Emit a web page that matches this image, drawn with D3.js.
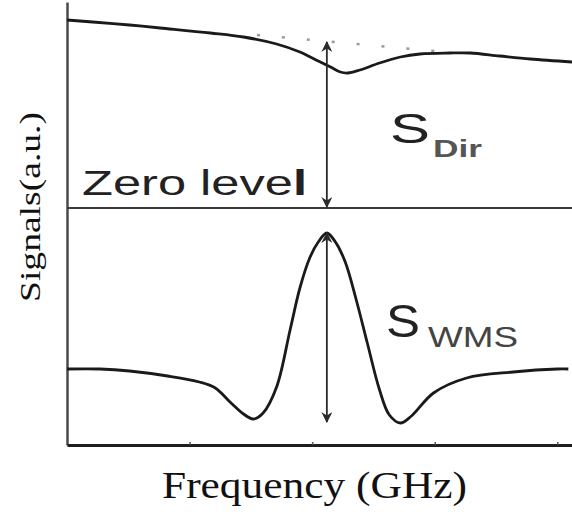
<!DOCTYPE html>
<html>
<head>
<meta charset="utf-8">
<script src="https://cdn.jsdelivr.net/npm/d3@7/dist/d3.min.js"></script>
<style>
  html, body { margin: 0; padding: 0; background: #fff; }
  svg { display: block; }
</style>
</head>
<body>
<svg id="chart" width="572" height="512"></svg>
<script>
// Direct absorption signal (upper trace)
const dirFreq   = [0, 0.21, 0.51, 0.76, 1.17, 1.44, 1.71, 1.90, 2.05, 2.15, 2.23, 2.29, 2.39, 2.55, 2.72, 2.88, 3.12, 3.29, 3.53, 3.78, 4.12];
const dirSignal = [1.88, 1.86, 1.83, 1.80, 1.75, 1.71, 1.64, 1.56, 1.47, 1.41, 1.36, 1.35, 1.38, 1.45, 1.51, 1.54, 1.55, 1.55, 1.52, 1.49, 1.46];

// Extrapolated baseline under the absorption dip (dotted)
const baseFreq   = [1.55, 3.00];
const baseSignal = [1.73, 1.57];

// Wavelength-modulation 2f signal (lower trace)
const wmsFreq   = [0, 0.27, 0.51, 0.82, 1.08, 1.21, 1.33, 1.44, 1.52, 1.60, 1.71, 1.82, 1.90, 1.98, 2.05, 2.12, 2.19, 2.27, 2.36, 2.45, 2.55, 2.63, 2.72, 2.81, 2.99, 3.26, 3.64, 4.00, 4.09];
const wmsSignal = [-1.61, -1.61, -1.63, -1.68, -1.74, -1.80, -1.94, -2.06, -2.11, -2.05, -1.79, -1.22, -0.80, -0.50, -0.34, -0.25, -0.34, -0.54, -0.92, -1.35, -1.82, -2.07, -2.15, -2.08, -1.85, -1.70, -1.64, -1.61, -1.61];

// Axis ticks and reference levels
const freqTicks = [1, 2, 3, 4];
const zeroLevel = 0;
const lineCenter = 2.12;
const dirLevel = 1.66;
const wmsPeak = -0.25;
const wmsFloor = -2.14;

const svg = d3.select("#chart");
const plotLeft = 67, plotRight = 572, plotTop = 2, plotBottom = 445;

const x = d3.scaleLinear().domain([0, 4.12]).range([plotLeft, plotRight]);
const y = d3.scaleLinear().domain([-2.37, 2.06]).range([plotBottom, plotTop]);

// Arrow markers
const defs = svg.append("defs");
defs.append("marker")
  .attr("id", "arrow")
  .attr("viewBox", "0 0 10 10")
  .attr("refX", 9).attr("refY", 5)
  .attr("markerWidth", 11).attr("markerHeight", 11)
  .attr("markerUnits", "userSpaceOnUse")
  .attr("orient", "auto-start-reverse")
  .append("path")
  .attr("d", "M0,0 L10,5 L0,10 L3,5 Z")
  .attr("fill", "#2a2a2a");

// Axes
svg.append("g")
  .attr("transform", `translate(${plotLeft},0)`)
  .call(d3.axisLeft(y).tickValues([]).tickSizeOuter(0))
  .call(g => g.select(".domain").attr("stroke", "#4a4a4a").attr("stroke-width", 2.5));

svg.append("g")
  .attr("transform", `translate(0,${plotBottom})`)
  .call(d3.axisBottom(x).tickValues(freqTicks).tickSizeInner(-3).tickSizeOuter(0).tickFormat(""))
  .call(g => g.select(".domain").attr("stroke", "#1e1e1e").attr("stroke-width", 3))
  .call(g => g.selectAll(".tick line").attr("stroke", "#555").attr("stroke-width", 1.5));

// Zero level line
svg.append("line")
  .attr("x1", x(0)).attr("x2", plotRight)
  .attr("y1", y(zeroLevel)).attr("y2", y(zeroLevel))
  .attr("stroke", "#3a3a3a").attr("stroke-width", 2.2);

const line = d3.line().curve(d3.curveCatmullRom.alpha(0.5));

// Dotted baseline
svg.append("path")
  .attr("d", line(baseFreq.map((f, i) => [x(f), y(baseSignal[i])])))
  .attr("fill", "none")
  .attr("stroke", "#9a9a9a")
  .attr("stroke-width", 2.5)
  .attr("stroke-dasharray", "3,22");

// Signal traces
svg.append("path")
  .attr("d", line(dirFreq.map((f, i) => [x(f), y(dirSignal[i])])))
  .attr("fill", "none").attr("stroke", "#1a1a1a").attr("stroke-width", 2.8);

svg.append("path")
  .attr("d", line(wmsFreq.map((f, i) => [x(f), y(wmsSignal[i])])))
  .attr("fill", "none").attr("stroke", "#1a1a1a").attr("stroke-width", 2.8);

// Amplitude arrows
svg.append("line")
  .attr("x1", x(lineCenter)).attr("x2", x(lineCenter))
  .attr("y1", y(zeroLevel) - 1).attr("y2", y(dirLevel))
  .attr("stroke", "#2a2a2a").attr("stroke-width", 1.8)
  .attr("marker-start", "url(#arrow)").attr("marker-end", "url(#arrow)");

svg.append("line")
  .attr("x1", x(lineCenter)).attr("x2", x(lineCenter))
  .attr("y1", y(wmsPeak)).attr("y2", y(wmsFloor))
  .attr("stroke", "#2a2a2a").attr("stroke-width", 1.8)
  .attr("marker-start", "url(#arrow)").attr("marker-end", "url(#arrow)");

// Labels
const sans = "'Liberation Sans', Arial, sans-serif";
const serif = "'Liberation Serif', 'Times New Roman', serif";

const zero = svg.append("text")
  .attr("x", 82).attr("y", 195)
  .attr("font-family", sans).attr("font-size", 35)
  .attr("fill", "#222")
  .attr("textLength", 225).attr("lengthAdjust", "spacingAndGlyphs");
zero.append("tspan").text("Zero leve");
zero.append("tspan").attr("font-weight", "bold").text("l");

svg.append("text")
  .attr("x", 390).attr("y", 143)
  .attr("font-family", sans).attr("font-size", 43).attr("fill", "#222")
  .attr("textLength", 40).attr("lengthAdjust", "spacingAndGlyphs")
  .text("S");
svg.append("text")
  .attr("x", 433).attr("y", 157)
  .attr("font-family", sans).attr("font-size", 24).attr("font-weight", "bold").attr("fill", "#555")
  .attr("textLength", 49).attr("lengthAdjust", "spacingAndGlyphs")
  .text("Dir");

svg.append("text")
  .attr("x", 386).attr("y", 337)
  .attr("font-family", sans).attr("font-size", 46).attr("fill", "#222")
  .attr("textLength", 34).attr("lengthAdjust", "spacingAndGlyphs")
  .text("S");
svg.append("text")
  .attr("x", 428).attr("y", 347)
  .attr("font-family", sans).attr("font-size", 30).attr("fill", "#444")
  .attr("textLength", 90).attr("lengthAdjust", "spacingAndGlyphs")
  .text("WMS");

svg.append("text")
  .attr("x", 162).attr("y", 498)
  .attr("font-family", serif).attr("font-size", 38).attr("fill", "#111")
  .attr("textLength", 305).attr("lengthAdjust", "spacingAndGlyphs")
  .text("Frequency (GHz)");

svg.append("text")
  .attr("transform", "translate(40,302) rotate(-90)")
  .attr("x", 0).attr("y", 0)
  .attr("font-family", serif).attr("font-size", 30).attr("fill", "#111")
  .attr("textLength", 190).attr("lengthAdjust", "spacingAndGlyphs")
  .text("Signals(a.u.)");
</script>
</body>
</html>
